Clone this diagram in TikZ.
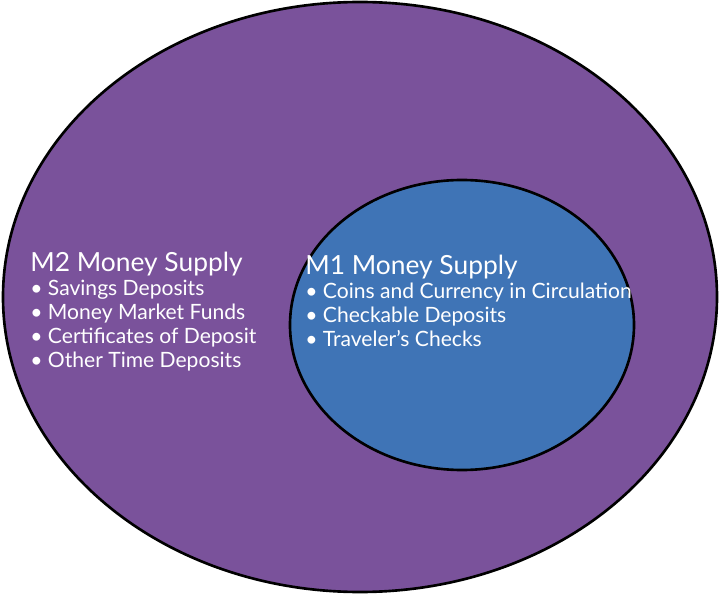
\documentclass[tikz,border=0pt]{standalone}
\usepackage{fontspec}
\setmainfont{Lato}
\definecolor{outerc}{HTML}{7A529B}
\definecolor{innerc}{HTML}{3F74B6}
\begin{document}
\begin{tikzpicture}[x=0.02cm,y=-0.02cm,
  lbl/.style={text=white,anchor=north west,align=left,inner sep=0pt,font=\fontsize{12}{13.6}\selectfont}]
\useasboundingbox (0,0) rectangle (720,594);
\fill[white] (0,0) rectangle (720,594);
\draw[line width=1.5pt,fill=outerc] (360,297) ellipse [x radius=357, y radius=295];
\draw[line width=1.5pt,fill=innerc] (462,325) ellipse [x radius=172, y radius=145];
\node[lbl] (m2) at (30,252) {{\fontsize{15}{15}\selectfont M2 Money Supply}\\
\textbullet\ Savings Deposits\\
\textbullet\ Money Market Funds\\
\textbullet\ Certificates of Deposit\\
\textbullet\ Other Time Deposits};
\node[lbl] (m1) at (305,255) {{\fontsize{15}{15}\selectfont M1 Money Supply}\\
\textbullet\ Coins and Currency in Circulation\\
\textbullet\ Checkable Deposits\\
\textbullet\ Traveler’s Checks};
\end{tikzpicture}
\end{document}
